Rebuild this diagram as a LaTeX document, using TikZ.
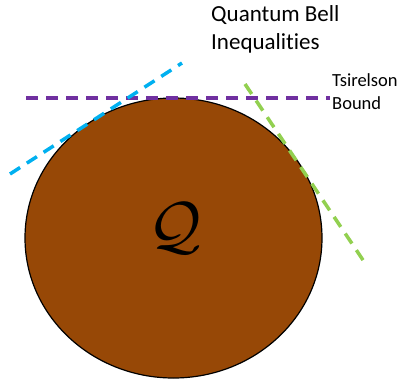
\documentclass[tikz,border=0pt]{standalone}
\usepackage{fontspec}
\usepackage{graphicx}
\setmainfont[Ligatures=NoCommon]{Carlito}
\usetikzlibrary{shapes.geometric}
\definecolor{qbrown}{RGB}{151,72,6}
\definecolor{qblue}{RGB}{0,176,240}
\definecolor{qpurple}{RGB}{112,48,160}
\definecolor{qgreen}{RGB}{146,208,80}
\begin{document}
\begin{tikzpicture}[x=1pt,y=-1pt,
  bound/.style={line width=3.5pt, dash pattern=on 12pt off 8pt},
  lbl/.style={anchor=north west, inner sep=0pt, align=left}]
\useasboundingbox (0,0) rectangle (400,384);
\node[draw=black, line width=1.2pt, fill=qbrown, ellipse, minimum width=297pt, minimum height=280pt, inner sep=0pt] (q) at (173.5,238) {};
\node[inner sep=0pt] (ql) at (175,228) {\scalebox{6.5}{$\mathcal{Q}$}};
\coordinate (ts1) at (26,98);
\coordinate (ts2) at (330,98);
\draw[bound, qpurple] (ts1) -- (ts2);
\coordinate (b1) at (10,174);
\coordinate (b2) at (182,63);
\draw[bound, qblue] (b1) -- (b2);
\coordinate (g1) at (245,84);
\coordinate (g2) at (367,266);
\draw[bound, qgreen] (g1) -- (g2);
\node[lbl, font=\fontsize{23}{28}\selectfont] (qbi) at (211,5) {Quantum Bell\\Inequalities};
\node[lbl, font=\fontsize{18.5}{23}\selectfont] (tb) at (332,73) {Tsirelson\\Bound};
\end{tikzpicture}
\end{document}
